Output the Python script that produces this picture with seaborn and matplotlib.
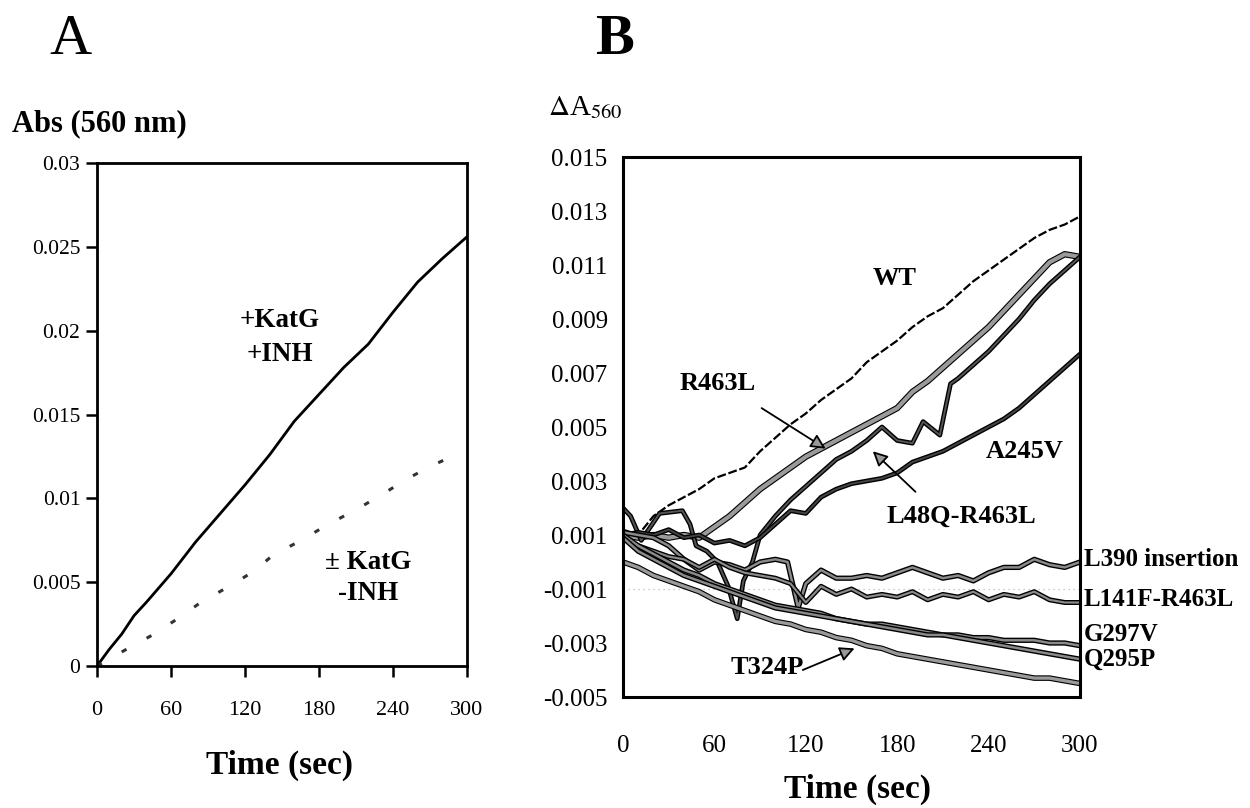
import seaborn as sns
import matplotlib.pyplot as plt
import matplotlib.patheffects as pe

# ---- panel A data ----
a_t_inh = [0, 10, 20, 30, 40, 60, 80, 100, 120, 140, 160, 180, 200, 220, 240, 260, 280, 300]
a_v_inh = [0, 0.0010, 0.0019, 0.0030, 0.0038, 0.0055, 0.0074, 0.0091, 0.0108, 0.0126,
           0.0146, 0.0162, 0.0178, 0.0192, 0.0211, 0.0229, 0.0243, 0.0256]
a_t_ctrl = [0, 23, 45, 66, 85, 107, 127, 143, 164, 187, 210, 231, 250, 270, 291]
a_v_ctrl = [0, 0.00096, 0.00185, 0.00285, 0.00384, 0.00474, 0.00564, 0.00663, 0.00743,
            0.00843, 0.00932, 0.01022, 0.0111, 0.0119, 0.0126]
a_yticks = [0, 0.005, 0.01, 0.015, 0.02, 0.025, 0.03]
a_ylabels = ["0", "0.005", "0.01", "0.015", "0.02", "0.025", "0.03"]
x_ticks = [0, 60, 120, 180, 240, 300]

# ---- panel B data ----
b_t = list(range(0, 301, 10))
wt = [0.0012, 0.0010, 0.0017, 0.0021, 0.0024, 0.0027, 0.0031, 0.0033, 0.0035, 0.0041, 0.0046,
      0.0051, 0.0055, 0.0060, 0.0064, 0.0068, 0.0074, 0.0078, 0.0082, 0.0087, 0.0091,
      0.0094, 0.0099, 0.0104, 0.0108, 0.0112, 0.0116, 0.0120, 0.0123, 0.0125, 0.0128]
r463l = [0.0010, 0.0009, 0.0010, 0.0009, 0.0010, 0.0009, 0.0013, 0.0017, 0.0022, 0.0027, 0.0031,
         0.0035, 0.0039, 0.0042, 0.0045, 0.0048, 0.0051, 0.0054, 0.0057, 0.0063, 0.0067,
         0.0072, 0.0077, 0.0082, 0.0087, 0.0093, 0.0099, 0.0105, 0.0111, 0.0114, 0.0113]
l48q_t = [0, 5, 12, 24, 39, 44, 48, 55, 62, 69, 75, 79, 85, 90, 100, 110, 120, 130, 140, 150,
          160, 170, 180, 190, 197, 208, 215, 220, 230, 240, 250, 260, 270, 280, 290, 300]
l48q = [0.0020, 0.0017, 0.0008, 0.0018, 0.0019, 0.0014, 0.0006, 0.0004, 0.0000, -0.0009,
        -0.0021, -0.0007, 0.0000, 0.0010, 0.0017, 0.0023, 0.0028, 0.0033, 0.0038, 0.0041,
        0.0045, 0.0050, 0.0045, 0.0044, 0.0052, 0.0047, 0.0066, 0.0068, 0.0073, 0.0078,
        0.0084, 0.0090, 0.0097, 0.0103, 0.0108, 0.0113]
a245v = [0.0010, 0.0011, 0.0010, 0.0012, 0.0009, 0.0010, 0.0007, 0.0008, 0.0006, 0.0009, 0.0014,
         0.0019, 0.0018, 0.0024, 0.0027, 0.0029, 0.0030, 0.0031, 0.0033, 0.0037, 0.0039,
         0.0041, 0.0044, 0.0047, 0.0050, 0.0053, 0.0057, 0.0062, 0.0067, 0.0072, 0.0077]
l390_t = [0, 10, 20, 30, 40, 50, 60, 70, 80, 90, 100, 108, 115, 120, 130, 140, 150, 160, 170,
          180, 190, 200, 210, 220, 230, 240, 250, 260, 270, 280, 290, 300]
l390 = [0.0011, 0.0010, 0.0009, 0.0006, 0.0001, -0.0003, 0.0000, -0.0001, -0.0003, 0.0000,
        0.0001, 0.0000, -0.0017, -0.0008, -0.0003, -0.0006, -0.0006, -0.0005, -0.0006, -0.0004,
        -0.0002, -0.0004, -0.0006, -0.0005, -0.0007, -0.0004, -0.0002, -0.0002, 0.0001,
        -0.0001, -0.0002, 0.0000]
l141f = [0.0009, 0.0006, 0.0004, 0.0002, 0.0001, -0.0002, 0.0001, -0.0002, -0.0004, -0.0005,
         -0.0006, -0.0008, -0.0015, -0.0009, -0.0012, -0.0010, -0.0013, -0.0012, -0.0013,
         -0.0011, -0.0014, -0.0012, -0.0013, -0.0011, -0.0014, -0.0012, -0.0013, -0.0011,
         -0.0014, -0.0015, -0.0015]
g297v = [0.0010, 0.0006, 0.0003, 0.0000, -0.0003, -0.0005, -0.0008, -0.0010, -0.0012, -0.0014,
         -0.0016, -0.0017, -0.0018, -0.0019, -0.0021, -0.0022, -0.0023, -0.0023, -0.0024,
         -0.0025, -0.0026, -0.0027, -0.0027, -0.0028, -0.0028, -0.0029, -0.0029, -0.0029,
         -0.0030, -0.0030, -0.0031]
q295p = [0.0009, 0.0004, 0.0001, -0.0002, -0.0005, -0.0007, -0.0009, -0.0011, -0.0013, -0.0015,
         -0.0017, -0.0018, -0.0019, -0.0020, -0.0021, -0.0022, -0.0023, -0.0024, -0.0025,
         -0.0026, -0.0027, -0.0027, -0.0028, -0.0029, -0.0030, -0.0031, -0.0032, -0.0033,
         -0.0034, -0.0035, -0.0036]
t324p = [0.0000, -0.0002, -0.0005, -0.0007, -0.0009, -0.0011, -0.0014, -0.0016, -0.0018, -0.0020,
         -0.0022, -0.0023, -0.0025, -0.0026, -0.0028, -0.0029, -0.0031, -0.0032, -0.0034,
         -0.0035, -0.0036, -0.0037, -0.0038, -0.0039, -0.0040, -0.0041, -0.0042, -0.0043,
         -0.0043, -0.0044, -0.0045]
b_yticks = [0.015, 0.013, 0.011, 0.009, 0.007, 0.005, 0.003, 0.001, -0.001, -0.003, -0.005]
b_ylabels = ["0.015", "0.013", "0.011", "0.009", "0.007", "0.005", "0.003", "0.001",
             "-0.001", "-0.003", "-0.005"]

sns.set_theme(style="white")
plt.rcParams["font.family"] = ["Liberation Serif", "DejaVu Serif"]
plt.rcParams["mathtext.fontset"] = "stix"
for key in ["text.color", "axes.labelcolor", "xtick.color", "ytick.color"]:
    plt.rcParams[key] = "black"

fig = plt.figure(figsize=(12.5, 8.08), dpi=100)
W, H = 1250, 808
axA = fig.add_axes([97 / W, 1 - 666 / H, 370 / W, 503 / H])
axB = fig.add_axes([623 / W, 1 - 697 / H, 457 / W, 540 / H])

# ---- panel A ----
sns.lineplot(x=a_t_inh, y=a_v_inh, ax=axA, color="black", lw=2, estimator=None, sort=False)
sns.lineplot(x=a_t_ctrl, y=a_v_ctrl, ax=axA, color="#333333", lw=2.2, estimator=None,
             sort=False, linestyle=(0, (1.8, 7.5)))
axA.set_xlim(0, 300)
axA.set_ylim(0, 0.03)
axA.set_xticks(x_ticks)
axA.set_xticklabels([str(v) for v in x_ticks], fontsize=16)
axA.set_yticks(a_yticks)
axA.set_yticklabels(a_ylabels, fontsize=15.5)
axA.tick_params(axis="both", direction="out", length=8, width=1.8, color="black",
                left=True, bottom=True)
axA.tick_params(axis="x", pad=17)
axA.tick_params(axis="y", pad=4)
for s in axA.spines.values():
    s.set_color("black")
    s.set_linewidth(2)
axA.set_xlabel("")
axA.set_ylabel("")
axA.text(148, 0.0206, "+KatG", ha="center", va="center", fontsize=19.5, fontweight="bold")
axA.text(148, 0.0186, "+INH", ha="center", va="center", fontsize=19.5, fontweight="bold")
axA.text(220, 0.0062, "\u00b1 KatG", ha="center", va="center", fontsize=19.5, fontweight="bold")
axA.text(220, 0.0043, "-INH", ha="center", va="center", fontsize=19.5, fontweight="bold")

# ---- panel B ----
def outlined(w_out):
    return [pe.Stroke(linewidth=w_out, foreground="black"), pe.Normal()]

axB.axhline(-0.001, color="#bbbbbb", lw=0.9, ls=(0, (1, 3)), zorder=0)
sns.lineplot(x=b_t, y=wt, ax=axB, color="black", lw=1.6, estimator=None, sort=False,
             linestyle=(0, (4, 1.2)))
sns.lineplot(x=b_t, y=r463l, ax=axB, color="#9a9a9a", lw=3, estimator=None, sort=False,
             path_effects=outlined(4.6))
sns.lineplot(x=l48q_t, y=l48q, ax=axB, color="#555555", lw=1.4, estimator=None, sort=False,
             path_effects=outlined(3.4))
sns.lineplot(x=b_t, y=a245v, ax=axB, color="#444444", lw=1.4, estimator=None, sort=False,
             path_effects=outlined(3.4))
sns.lineplot(x=l390_t, y=l390, ax=axB, color="#8a8a8a", lw=1.8, estimator=None, sort=False,
             path_effects=outlined(3.8))
sns.lineplot(x=b_t, y=l141f, ax=axB, color="#8a8a8a", lw=1.6, estimator=None, sort=False,
             path_effects=outlined(3.6))
sns.lineplot(x=b_t, y=g297v, ax=axB, color="#8a8a8a", lw=1.8, estimator=None, sort=False,
             path_effects=outlined(3.8))
sns.lineplot(x=b_t, y=q295p, ax=axB, color="#8a8a8a", lw=1.8, estimator=None, sort=False,
             path_effects=outlined(3.8))
sns.lineplot(x=b_t, y=t324p, ax=axB, color="#9a9a9a", lw=2.4, estimator=None, sort=False,
             path_effects=outlined(4.0))
axB.set_xlim(0, 300)
axB.set_ylim(-0.005, 0.015)
axB.set_xticks(x_ticks)
axB.set_xticklabels([str(v) for v in x_ticks], fontsize=18)
axB.set_yticks(b_yticks)
axB.set_yticklabels(b_ylabels, fontsize=18)
axB.tick_params(axis="both", length=0)
axB.tick_params(axis="x", pad=27)
axB.tick_params(axis="y", pad=11)
for s in axB.spines.values():
    s.set_color("black")
    s.set_linewidth(2.2)
axB.set_xlabel("")
axB.set_ylabel("")

lbl = dict(fontsize=19, fontweight="bold", va="center")
axB.text(178, 0.0105, "WT", ha="center", **lbl)
axB.text(62, 0.0066, "R463L", ha="center", **lbl)
axB.text(264, 0.0041, "A245V", ha="center", **lbl)
axB.text(222, 0.0017, "L48Q-R463L", ha="center", **lbl)
axB.text(95, -0.0039, "T324P", ha="center", **lbl)
side = dict(fontsize=18, fontweight="bold", va="center")
for yv, name in [(0.0001, "L390 insertion"), (-0.0014, "L141F-R463L"),
                 (-0.0027, "G297V"), (-0.0036, "Q295P")]:
    axB.text(302.5, yv, name, ha="left", clip_on=False, **side)

arrow = dict(arrowstyle="-|>", lw=1.3, mutation_scale=22, fc="#999999", ec="black",
             shrinkA=0, shrinkB=0)
axB.annotate("", xy=(133, 0.0042), xytext=(91, 0.0057), arrowprops=arrow)
axB.annotate("", xy=(164, 0.0041), xytext=(192, 0.0026), arrowprops=arrow)
axB.annotate("", xy=(152, -0.0032), xytext=(118, -0.0040), arrowprops=arrow)

# ---- figure texts ----
fig.text(70 / W, 1 - 40 / H, "A", fontsize=42, ha="center", va="center")
fig.text(614 / W, 1 - 40 / H, "B", fontsize=42, ha="center", va="center", fontweight="bold")
fig.text(12 / W, 1 - 124 / H, "Abs (560 nm)", fontsize=22, fontweight="bold", va="center")
fig.text(548 / W, 1 - 108 / H, r"$\Delta$A$_{560}$", fontsize=21, va="center")
fig.text(279 / W, 1 - 765 / H, "Time (sec)", fontsize=24, fontweight="bold",
         ha="center", va="center")
fig.text(857 / W, 1 - 789 / H, "Time (sec)", fontsize=24, fontweight="bold",
         ha="center", va="center")

fig.savefig("out.png", dpi=100)
